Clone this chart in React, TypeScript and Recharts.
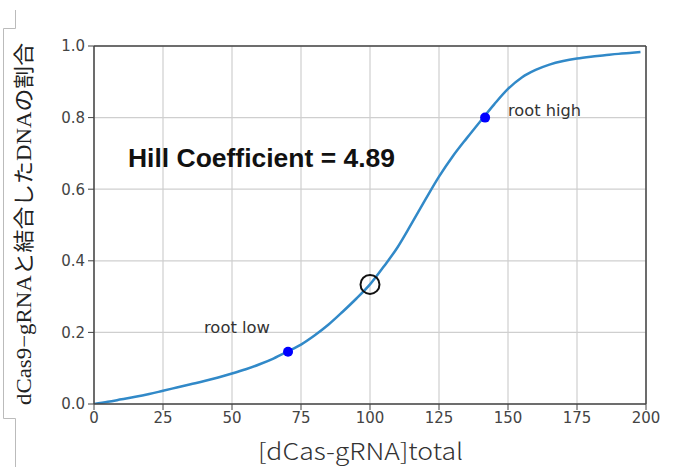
import { ComposedChart, Line, Scatter, XAxis, YAxis, CartesianGrid, ReferenceLine } from 'recharts';

// curve
const xValues = [
  0, 5, 10, 15, 20, 25, 30, 35, 40, 45, 50, 55, 60, 65, 70, 75, 80, 85, 90, 95, 100,
  105, 110, 115, 120, 125, 130, 135, 140, 145, 150, 155, 160, 165, 170, 175, 180, 185, 190, 195, 198,
];
const yValues = [
  0.0, 0.006, 0.013, 0.02, 0.028, 0.037, 0.046, 0.055, 0.064, 0.074, 0.085, 0.097, 0.111, 0.127, 0.146,
  0.166, 0.192, 0.222, 0.257, 0.294, 0.334, 0.384, 0.438, 0.503, 0.57, 0.635, 0.692, 0.742, 0.79, 0.837,
  0.88, 0.912, 0.933, 0.948, 0.958, 0.965, 0.97, 0.974, 0.978, 0.981, 0.983,
];

const rootX = [70.3, 141.7];
const rootY = [0.146, 0.8];
const centerX = [100];
const centerY = [0.334];

const xTicks = [0, 25, 50, 75, 100, 125, 150, 175, 200];
const yTicks = [0, 0.2, 0.4, 0.6, 0.8, 1.0];

const curve = xValues.map((x, i) => ({ x, y: yValues[i] }));
const roots = rootX.map((x, i) => ({ x, y: rootY[i] }));
const center = centerX.map((x, i) => ({ x, y: centerY[i] }));

const AXIS = '#444';
const tickStyle = { fill: '#444', fontSize: 15, fontFamily: 'DejaVu Sans' };

const RootDot = (props: any) => <circle cx={props.cx} cy={props.cy} r={5} fill="#0000ff" />;
const OpenDot = (props: any) => (
  <circle cx={props.cx} cy={props.cy} r={9.5} fill="none" stroke="#111" strokeWidth={2} />
);

export default function App() {
  return (
    <div style={{ position: 'absolute', left: 0, top: 0, width: 677, height: 467, background: '#fff' }}>
      <ComposedChart
        width={677}
        height={467}
        data={curve}
        margin={{ top: 46, right: 31, bottom: 33, left: 34 }}
      >
        <CartesianGrid stroke="#cfcfcf" strokeWidth={1.2} />
        <XAxis
          type="number"
          dataKey="x"
          domain={[0, 200]}
          ticks={xTicks}
          height={30}
          tick={tickStyle}
          tickSize={6}
          tickMargin={2}
          axisLine={{ stroke: AXIS, strokeWidth: 1.5 }}
          tickLine={{ stroke: AXIS }}
          allowDataOverflow
        />
        <YAxis
          type="number"
          dataKey="y"
          domain={[0, 1]}
          ticks={yTicks}
          width={60}
          tick={tickStyle}
          tickSize={6}
          tickMargin={3}
          tickFormatter={(v: number) => v.toFixed(1)}
          axisLine={{ stroke: AXIS, strokeWidth: 1.5 }}
          tickLine={{ stroke: AXIS }}
          allowDataOverflow
        />
        <ReferenceLine y={1} stroke={AXIS} strokeWidth={1.5} />
        <ReferenceLine x={200} stroke={AXIS} strokeWidth={1.5} />
        <Line
          type="monotone"
          dataKey="y"
          stroke="#3189c8"
          strokeWidth={2.5}
          dot={false}
          isAnimationActive={false}
        />
        <Scatter data={roots} shape={RootDot} isAnimationActive={false} />
        <Scatter data={center} shape={OpenDot} isAnimationActive={false} />
      </ComposedChart>
      <svg
        width={677}
        height={467}
        style={{ position: 'absolute', left: 0, top: 0, pointerEvents: 'none' }}
      >
        <path d="M15.5,10 V28.5 H3.5 V418.5 H15.5 V467" fill="none" stroke="#bbb" strokeWidth={1} />
        <text
          transform="translate(31,224) rotate(-90)"
          textAnchor="middle"
          textLength={362}
          lengthAdjust="spacingAndGlyphs"
          fontSize={21}
          fill="#222"
          fontFamily="'Liberation Serif', 'Noto Sans CJK JP'"
        >
          dCas9−gRNAと結合したDNAの割合
        </text>
        <text
          x={258}
          y={460}
          textLength={205}
          lengthAdjust="spacingAndGlyphs"
          fontSize={23}
          fill="#333"
          fontFamily="'Noto Sans CJK JP'"
          fontWeight={300}
        >
          [dCas-gRNA]total
        </text>
        <text
          x={128}
          y={167}
          textLength={267}
          lengthAdjust="spacingAndGlyphs"
          fontSize={25}
          fontWeight="bold"
          fill="#111"
          fontFamily="'Liberation Sans', Arial"
        >
          Hill Coefficient = 4.89
        </text>
        <text x={204} y={333} textLength={66} lengthAdjust="spacingAndGlyphs" fontSize={15} fill="#333" fontFamily="'DejaVu Sans'">
          root low
        </text>
        <text x={508} y={116} textLength={73} lengthAdjust="spacingAndGlyphs" fontSize={15} fill="#333" fontFamily="'DejaVu Sans'">
          root high
        </text>
      </svg>
    </div>
  );
}
